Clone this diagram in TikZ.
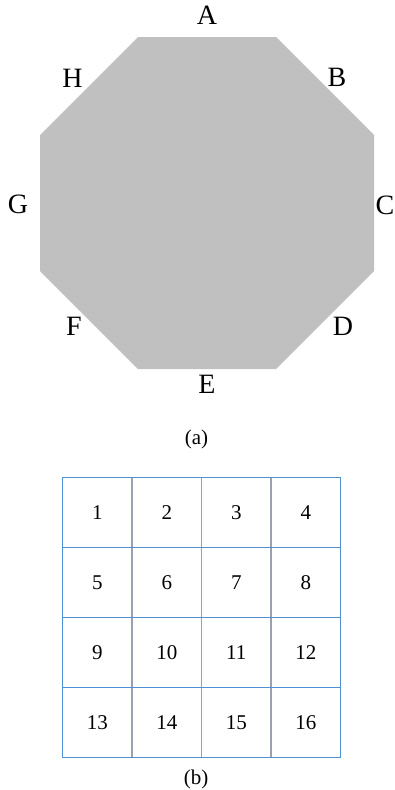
\documentclass[tikz,border=0pt]{standalone}
\usepackage{fontspec}
\setmainfont{Liberation Serif}
\usetikzlibrary{positioning}
\definecolor{octfill}{HTML}{C0C0C0}
\definecolor{gridblue}{HTML}{4F8FD3}
\definecolor{gridgray}{HTML}{98A2AE}
\newcommand{\cornerfont}[1]{{\fontsize{28}{30}\selectfont #1}}

\begin{document}
\begin{tikzpicture}[x=1pt,y=-1pt]
  \useasboundingbox (0,0) rectangle (394,790);
  % (a) the octagon and its corner letters
  \fill[octfill] (138,37) -- (276,37) -- (374,135) -- (374,271)
    -- (276,369) -- (138,369) -- (40,271) -- (40,135) -- cycle;
  \foreach \n/\x/\y in {A/207/15.5, B/337/77.5, C/385/205, D/343/326,
                        E/207/384, F/74/326, G/18/204, H/72.5/78}
  {
    \node[inner sep=0pt] (corner\n) at (\x,\y) {\cornerfont{\n}};
  }
  \node[font=\fontsize{21}{23}\selectfont] (capa) at (196.5,439) {(a)};
  % (b) the 4x4 grid
  \def\gx{62.5}
  \def\gy{477.5}
  \def\cw{69.5}
  \def\ch{70}
  \foreach \c in {1,2,3}
    \draw[gridgray,line width=1.1pt] (\gx+\c*\cw,\gy) -- (\gx+\c*\cw,\gy+4*\ch);
  \foreach \r in {1,2,3}
    \draw[gridblue,line width=1.2pt] (\gx,\gy+\r*\ch) -- (\gx+4*\cw,\gy+\r*\ch);
  \draw[gridblue,line width=1.2pt] (\gx,\gy) rectangle (\gx+4*\cw,\gy+4*\ch);
  \foreach \r in {0,...,3}
    \foreach \c in {0,...,3}
    {
      \pgfmathtruncatemacro{\k}{4*\r+\c+1}
      \node[font=\fontsize{21}{23}\selectfont] (cell\k)
        at (\gx+\c*\cw+0.5*\cw,\gy+\r*\ch+0.5*\ch) {\k};
    }
  \node[font=\fontsize{21}{23}\selectfont] (capb) at (196,779) {(b)};
\end{tikzpicture}
\end{document}
